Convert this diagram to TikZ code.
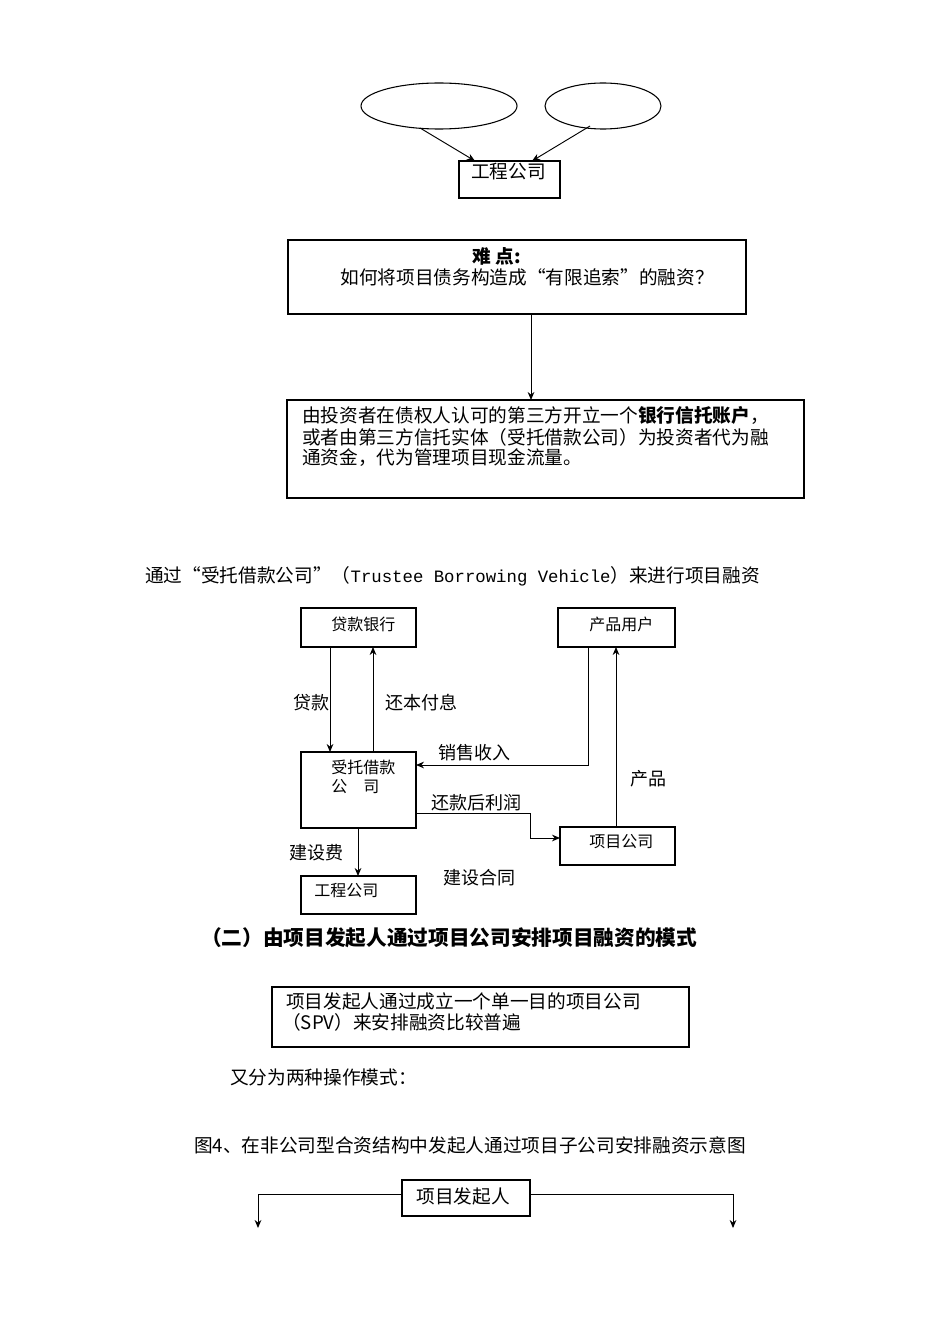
\documentclass[tikz,border=0pt]{standalone}
\usepackage{fontspec}
\setmainfont{Noto Sans CJK SC}
\newfontfamily\monof{Liberation Mono}
\usetikzlibrary{arrows.meta}
\begin{document}
\begin{tikzpicture}[x=0.75pt,y=-0.75pt,
  box/.style={draw,line width=0.8pt},
  arr/.style={-{Stealth[length=6pt,width=5pt]},line width=0.7pt},
  txt/.style={font=\fontsize{14pt}{16pt}\selectfont,inner sep=0pt},
  mtxt/.style={font=\fontsize{13.5pt}{16pt}\selectfont,inner sep=0pt},
  stxt/.style={font=\fontsize{12pt}{14pt}\selectfont,inner sep=0pt}]
\useasboundingbox[fill=white] (0,0) rectangle (950,1344);
% top
\draw[box] (439,106) ellipse [x radius=78,y radius=23];
\draw[box] (603,106) ellipse [x radius=58,y radius=23];
\coordinate (e1) at (420,128); \coordinate (e2) at (590,126);
\draw[box] (459,161) rectangle (560,198);
\node[txt,anchor=west] (gc) at (471,172) {工程公司};
\draw[arr] (e1) -- (475,161);
\draw[arr] (e2) -- (532,161);
\draw[box] (288,240) rectangle (746,314);
\node[txt,font=\fontsize{14pt}{16pt}\selectfont\bfseries] (nd) at (497,256) {难 点:};
\node[txt] (nd2) at (527,277) {如何将项目债务构造成“有限追索”的融资？};
\coordinate (a1) at (531,314); \coordinate (a2) at (531,400);
\draw[arr] (a1) -- (a2);
\draw[box] (287,400) rectangle (804,498);
\node[txt,anchor=west] (l1) at (302,415) {由投资者在债权人认可的第三方开立一个\textbf{银行信托账户}，};
\node[txt,anchor=west] (l2) at (302,437) {或者由第三方信托实体（受托借款公司）为投资者代为融};
\node[txt,anchor=west] (l3) at (302,458) {通资金，代为管理项目现金流量。};
\node[txt,anchor=west] (cap) at (145,576) {通过“受托借款公司”（{\monof\fontsize{13pt}{16pt}\selectfont Trustee Borrowing Vehicle}）来进行项目融资};
% middle diagram
\draw[box] (301,608) rectangle (416,647); \node[stxt,anchor=west] (bank) at (331,624) {贷款银行};
\draw[box] (558,608) rectangle (675,647); \node[stxt,anchor=west] (user) at (589,624) {产品用户};
\draw[box] (301,752) rectangle (416,828); \node[stxt,align=left,anchor=north west] (tbv) at (331,760) {受托借款\\公\quad 司};
\draw[box] (560,827) rectangle (675,865); \node[stxt,anchor=west] (pc) at (589,842) {项目公司};
\draw[box] (301,876) rectangle (416,914); \node[stxt,anchor=west] (ec) at (314,891) {工程公司};
\draw[arr] (330,647) -- (330,752);
\draw[arr] (373,752) -- (373,647);
\node[mtxt] at (311,703) {贷款};
\node[mtxt] at (421,703) {还本付息};
\draw[arr] (588,647) -- (588,765) -- (416,765);
\node[mtxt] at (474,753) {销售收入};
\draw[arr] (616,827) -- (616,647);
\node[mtxt] at (648,779) {产品};
\draw[arr] (416,813) -- (530,813) -- (530,838) -- (560,838);
\node[mtxt] at (476,803) {还款后利润};
\draw[arr] (358,828) -- (358,876);
\node[mtxt] at (316,853) {建设费};
\node[mtxt] at (479,878) {建设合同};
\node[txt,font=\fontsize{15.5pt}{18pt}\selectfont\bfseries] at (449,938) {（二）由项目发起人通过项目公司安排项目融资的模式};
\draw[box] (272,987) rectangle (689,1047);
\node[txt,anchor=west] at (286,1001) {项目发起人通过成立一个单一目的项目公司};
\node[txt,anchor=west] at (282,1022) {（SPV）来安排融资比较普遍};
\node[txt,anchor=west] at (230,1077) {又分为两种操作模式：};
\node[txt] at (470,1145) {图4、在非公司型合资结构中发起人通过项目子公司安排融资示意图};
\draw[box] (402,1180) rectangle (530,1216); \node[txt] (fq) at (463,1196) {项目发起人};
\draw[arr] (402,1194) -- (258,1194) -- (258,1228);
\draw[arr] (530,1194) -- (733,1194) -- (733,1228);
\end{tikzpicture}
\end{document}
